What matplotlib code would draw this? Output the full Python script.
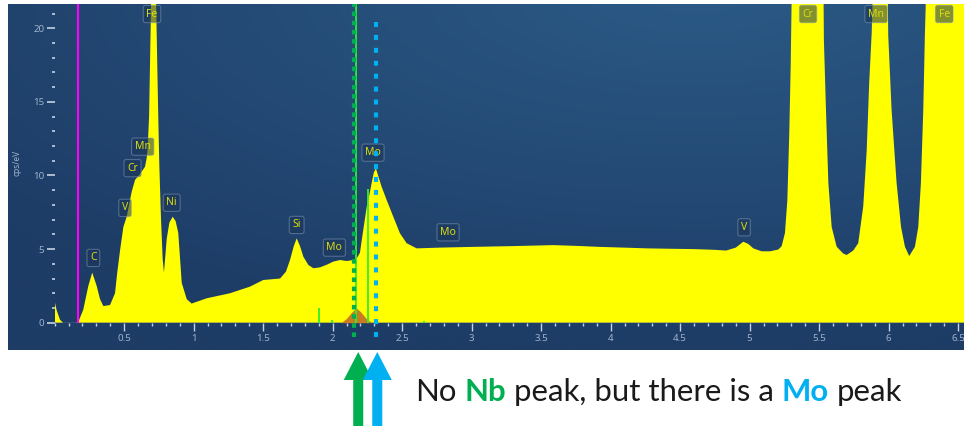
import numpy as np
import matplotlib
matplotlib.use("Agg")
import matplotlib.pyplot as plt
from matplotlib.patches import Polygon
from matplotlib.transforms import blended_transform_factory
from matplotlib.ticker import MultipleLocator

# ---------------- data ----------------
energy_kev = [0.002, 0.014, 0.038, 0.06, 0.10, 0.15, 0.17, 0.206, 0.242, 0.27, 0.302, 0.326,
              0.35, 0.398, 0.434, 0.45, 0.47, 0.494, 0.518, 0.554, 0.578, 0.614, 0.65,
              0.662, 0.669, 0.679, 0.695, 0.713, 0.728, 0.745, 0.753, 0.765, 0.777, 0.786,
              0.806, 0.825, 0.849, 0.87, 0.889, 0.914, 0.95, 0.985, 1.094, 1.261, 1.405,
              1.50, 1.621, 1.664, 1.693, 1.72, 1.741, 1.765, 1.789, 1.825, 1.861, 1.909,
              1.96, 2.004, 2.053, 2.10, 2.149, 2.175, 2.196, 2.22, 2.245, 2.262, 2.28,
              2.296, 2.311, 2.33, 2.352, 2.388, 2.436, 2.484, 2.532, 2.604, 2.77, 3.00,
              3.28, 3.50, 3.585, 3.75, 3.92, 4.10, 4.26, 4.45, 4.60, 4.75, 4.83, 4.90,
              4.954, 4.99, 5.026, 5.086, 5.146, 5.206, 5.23, 5.254, 5.271, 5.285, 5.295,
              5.302, 5.35, 5.41, 5.47, 5.53, 5.534, 5.549, 5.566, 5.590, 5.626, 5.673,
              5.698, 5.745, 5.781, 5.817, 5.842, 5.860, 5.878, 5.885, 5.93, 5.99, 5.997,
              6.021, 6.057, 6.089, 6.117, 6.148, 6.189, 6.213, 6.232, 6.249, 6.261, 6.268,
              6.33, 6.40, 6.48, 6.55]
counts_cps_ev = [1.36, 0.85, 0.2, 0.0, 0.0, 0.0, 0.05, 0.9, 2.5, 3.4, 2.5, 1.6,
                 1.13, 1.2, 2.0, 3.4, 4.9, 6.5, 7.2, 8.9, 9.7, 10.1, 10.6,
                 11.2, 11.9, 14.0, 22.5, 24.0, 22.5, 14.0, 10.6, 7.0, 4.3, 3.4,
                 5.7, 6.8, 7.2, 6.9, 6.1, 2.7, 1.6, 1.3, 1.66, 2.0, 2.45,
                 2.9, 3.0, 3.47, 4.26, 5.2, 5.73, 5.2, 4.48, 3.92, 3.7, 3.76,
                 3.95, 4.15, 4.26, 4.19, 4.26, 4.4, 4.75, 6.3, 7.88, 8.6, 9.47,
                 10.2, 10.49, 9.9, 9.24, 8.34, 7.2, 6.07, 5.4, 5.05, 5.1, 5.15,
                 5.2, 5.25, 5.27, 5.22, 5.15, 5.1, 5.05, 5.02, 5.0, 4.95, 4.9, 5.1,
                 5.5, 5.35, 5.05, 4.85, 4.85, 4.97, 5.2, 6.1, 8.3, 12.9, 17.4,
                 22.0, 38.0, 45.0, 38.0, 24.0, 19.2, 14.45, 9.5, 6.5, 5.16, 4.7,
                 4.6, 4.9, 5.4, 7.9, 11.7, 16.3, 19.7, 22.0, 32.0, 25.0, 19.5,
                 14.45, 9.5, 6.5, 5.16, 4.53, 5.16, 6.5, 9.5, 14.45, 19.7, 22.0,
                 60.0, 100.0, 60.0, 30.0]

nb_ref_energy = [2.06, 2.10, 2.14, 2.17, 2.20, 2.24, 2.28]
nb_ref_counts = [0.0, 0.3, 0.75, 1.0, 0.75, 0.3, 0.0]

nb_marker_energy = [1.902, 1.996, 2.166, 2.257, 2.66]
nb_marker_height = [1.0, 0.2, 22.0, 9.1, 0.1]

label_text = ["C", "V", "Cr", "Mn", "Fe", "Ni", "Si", "Mo", "Mo", "Mo", "V", "Cr", "Mn", "Fe"]
label_energy = [0.278, 0.506, 0.56, 0.633, 0.70, 0.842, 1.741, 2.012, 2.29, 2.83, 4.96,
                5.42, 5.909, 6.40]
label_level = [4.4, 7.8, 10.5, 11.96, 20.97, 8.15, 6.64, 5.1, 11.55, 6.14, 6.48,
               20.97, 20.97, 20.97]

x_tick_values = [0.5, 1, 1.5, 2, 2.5, 3, 3.5, 4, 4.5, 5, 5.5, 6, 6.5]
x_tick_labels = ["0.5", "1", "1.5", "2", "2.5", "3", "3.5", "4", "4.5", "5", "5.5", "6", "6.5"]
y_tick_values = [0, 5, 10, 15, 20]
y_tick_labels = ["0", "5", "10", "15", "20"]

nb_line_kev = 2.155
mo_line_kev = 2.310
cursor_kev = 0.168

# ---------------- figure ----------------
W, H = 964, 426
fig = plt.figure(figsize=(W / 100, H / 100), dpi=100)
fig.patch.set_facecolor("white")

# background panel with gradient
bg = fig.add_axes([8 / W, (H - 350) / H, (W - 8) / W, 346 / H])
ny, nx = 120, 240
gx, gy = np.meshgrid(np.linspace(0, 1, nx), np.linspace(1, 0, ny))
d = np.sqrt(((gx - 0.72) * 1.0) ** 2 + ((gy - 1.05) * 0.9) ** 2)
t = np.clip(1 - d / 0.95, 0, 1)
c0 = np.array([0x1d, 0x3c, 0x66]) / 255
c1 = np.array([0x2b, 0x5a, 0x86]) / 255
img = c0[None, None, :] + (c1 - c0)[None, None, :] * t[:, :, None]
bg.imshow(img, aspect="auto", extent=[0, 1, 0, 1], interpolation="bilinear")
bg.axis("off")
bg.set_zorder(0)

ax = fig.add_axes([54.7 / W, (H - 322.7) / H, (W - 54.7) / W, (322.7 - 4) / H])
ax.set_zorder(1)
ax.patch.set_alpha(0)
ax.set_xlim(0, 6.542)
ax.set_ylim(0, 21.65)
for s in ax.spines.values():
    s.set_visible(False)

tick_col = "#c5d1e2"
lab_col = "#9fb2cb"
ax.set_xticks(x_tick_values)
ax.set_xticklabels(x_tick_labels)
ax.set_yticks(y_tick_values)
ax.set_yticklabels(y_tick_labels)
ax.xaxis.set_minor_locator(MultipleLocator(0.1))
ax.yaxis.set_minor_locator(MultipleLocator(1))
ax.tick_params(axis="x", which="major", direction="out", length=6, width=1, color=tick_col,
               labelcolor=lab_col, labelsize=7, pad=2)
ax.tick_params(axis="x", which="minor", direction="out", length=2.5, width=1, color=tick_col)
ax.tick_params(axis="y", which="major", direction="out", length=5.5, width=1.2, color=tick_col,
               labelcolor=lab_col, labelsize=7, pad=2)
ax.tick_params(axis="y", which="minor", direction="out", length=2, width=1.2, color=tick_col)
for lbl in ax.get_xticklabels() + ax.get_yticklabels():
    lbl.set_family("Noto Sans")
ax.set_ylabel("cps/eV", color=lab_col, fontsize=6, family="Noto Sans", labelpad=8)

# spectrum
ax.fill_between(energy_kev, counts_cps_ev, 0, color="#ffff00", lw=0, zorder=2)
ax.axhline(0, color="#8d9bb0", lw=1, zorder=3)
ax.fill_between(nb_ref_energy, nb_ref_counts, 0, color="#c97b20", lw=0, zorder=3)
ax.vlines(nb_marker_energy, 0, nb_marker_height, color="#33ee33", lw=1.3, zorder=4)
ax.axvline(cursor_kev, color="#ff00ff", lw=1.5, zorder=4)

# element labels
for txt, e, lv in zip(label_text, label_energy, label_level):
    ax.text(e, lv, txt, ha="center", va="center", fontsize=7.5, color="#dcdc10",
            family="Noto Sans", zorder=6, clip_on=False,
            bbox=dict(boxstyle="round,pad=0.3,rounding_size=0.2", fc="#1c3658",
                      ec="#7d93b0", lw=0.8, alpha=0.55))

# dotted marker lines
ax.plot([nb_line_kev, nb_line_kev], [-0.97, 21.65], color="#00b050", lw=3,
        linestyle=(0, (1.1, 1.1)), solid_capstyle="butt", dash_capstyle="butt",
        clip_on=False, zorder=7)
ax.plot([mo_line_kev, mo_line_kev], [-0.97, 21.0], color="#00b0f0", lw=3,
        linestyle=(0, (1.2, 1.9)), solid_capstyle="butt", dash_capstyle="butt",
        clip_on=False, zorder=7)

# arrows below the chart (x in keV, y in figure fraction)
tr = blended_transform_factory(ax.transData, fig.transFigure)
kev_per_px = 6.542 / (W - 54.7)


def arrow(xc, color):
    hw = 14.5 * kev_per_px
    sw = 5 * kev_per_px
    y_tip = (H - 352) / H
    y_base = (H - 380) / H
    y_bot = 0.0
    pts = [(xc, y_tip), (xc + hw, y_base), (xc + sw, y_base), (xc + sw, y_bot),
           (xc - sw, y_bot), (xc - sw, y_base), (xc - hw, y_base)]
    fig.add_artist(Polygon(pts, closed=True, transform=tr, color=color, lw=0))


arrow(nb_line_kev + 4 * kev_per_px, "#00b050")
arrow(mo_line_kev + 1.5 * kev_per_px, "#00b0f0")

# caption with coloured words
segments = [("No", "#1a1a1a", "normal"), ("Nb", "#00b050", "bold"),
            ("peak, but there is a", "#1a1a1a", "normal"), ("Mo", "#00b0f0", "bold"),
            ("peak", "#1a1a1a", "normal")]
fig.canvas.draw()
renderer = fig.canvas.get_renderer()
fs = 22.4
fam = "Lato"
probe1 = fig.text(0, 0, "a a", fontsize=fs, family=fam)
probe2 = fig.text(0, 0, "aa", fontsize=fs, family=fam)
space_w = probe1.get_window_extent(renderer).width - probe2.get_window_extent(renderer).width
probe1.remove()
probe2.remove()
x_px = 415
y_fig = (H - 392) / H
for i, (s, col, wt) in enumerate(segments):
    t_ = fig.text(x_px / W, y_fig, s, fontsize=fs, family=fam, color=col, weight=wt,
                  ha="left", va="center")
    w = t_.get_window_extent(renderer).width
    x_px += w + space_w

fig.savefig("out.png", dpi=100, facecolor="white")
